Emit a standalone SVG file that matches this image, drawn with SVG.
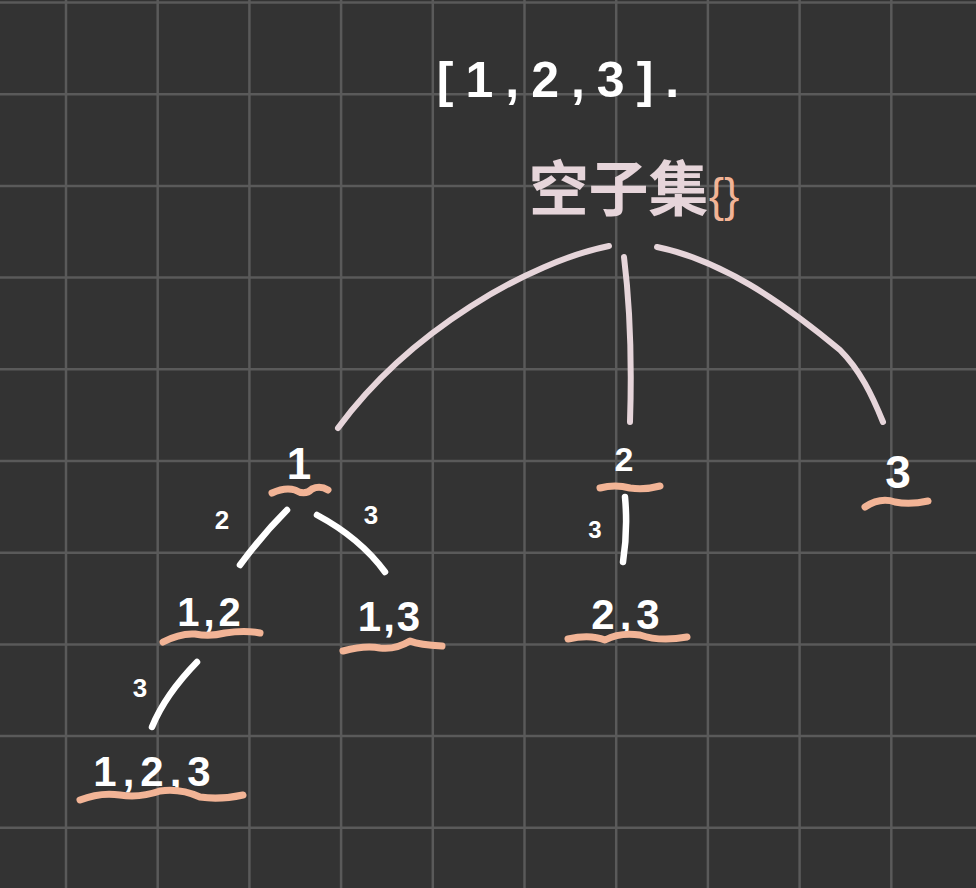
<svg xmlns="http://www.w3.org/2000/svg" width="976" height="888" viewBox="0 0 976 888">
<style>
.grid line{stroke:#5a5a5a;stroke-width:2.5}
.conn path{fill:none;stroke-linecap:round;stroke-linejoin:round}
.pink{stroke:#e6d5da;stroke-width:6}
.white{stroke:#ffffff;stroke-width:6.5}
.sq path{fill:none;stroke:#f2b496;stroke-width:7;stroke-linecap:round;stroke-linejoin:round}
text{font-family:"Liberation Sans","Noto Sans CJK SC",sans-serif;fill:#ffffff;text-anchor:middle}
.num{font-weight:bold}
</style>
<rect width="976" height="888" fill="#333333"/>
<g class="grid">
<line x1="66" y1="0" x2="66" y2="888"/><line x1="157.7" y1="0" x2="157.7" y2="888"/><line x1="249.4" y1="0" x2="249.4" y2="888"/><line x1="341.1" y1="0" x2="341.1" y2="888"/><line x1="432.8" y1="0" x2="432.8" y2="888"/><line x1="524.5" y1="0" x2="524.5" y2="888"/><line x1="616.2" y1="0" x2="616.2" y2="888"/><line x1="707.9" y1="0" x2="707.9" y2="888"/><line x1="799.6" y1="0" x2="799.6" y2="888"/><line x1="891.3" y1="0" x2="891.3" y2="888"/>
<line x1="0" y1="2.5" x2="976" y2="2.5"/><line x1="0" y1="94.2" x2="976" y2="94.2"/><line x1="0" y1="185.9" x2="976" y2="185.9"/><line x1="0" y1="277.6" x2="976" y2="277.6"/><line x1="0" y1="369.3" x2="976" y2="369.3"/><line x1="0" y1="461" x2="976" y2="461"/><line x1="0" y1="552.7" x2="976" y2="552.7"/><line x1="0" y1="644.4" x2="976" y2="644.4"/><line x1="0" y1="736.1" x2="976" y2="736.1"/><line x1="0" y1="827.8" x2="976" y2="827.8"/>
</g>
<g id="title"><text class="num" x="564" y="97" font-size="50" letter-spacing="12">[1,2,3].</text></g>
<g class="conn">
<path class="pink" d="M609,246 C530,262 410,330 338,428"/>
<path class="pink" d="M624,257 Q633,330 630,422"/>
<path class="pink" d="M657,247 C720,260 780,300 840,350 C860,370 872,395 883,422"/>
<path class="white" d="M287,510 Q262,535 240,565"/>
<path class="white" d="M317,515 Q360,538 385,572"/>
<path class="white" d="M197,662 Q165,695 152,727"/>
<path class="white" d="M625,497 Q628,530 623,562"/>
</g>
<g id="edge-labels">
<text class="num" x="222" y="529" font-size="26">2</text>
<text class="num" x="371" y="524" font-size="26">3</text>
<text class="num" x="140" y="697" font-size="26">3</text>
<text class="num" x="595" y="538" font-size="24">3</text>
</g>
<g id="root"><text x="634" y="211" font-size="60" font-weight="bold" style="fill:#e6d5da">空子集<tspan style="fill:#f2b496;font-weight:normal" font-size="46">{}</tspan></text></g>
<g id="n1"><text class="num" x="299" y="479" font-size="44">1</text></g>
<g id="n2"><text class="num" x="624" y="471" font-size="34">2</text></g>
<g id="n3"><text class="num" x="898" y="488" font-size="46">3</text></g>
<g id="n12"><text class="num" x="211" y="626" font-size="40" letter-spacing="4">1,2</text></g>
<g id="n13"><text class="num" x="390" y="631" font-size="42" letter-spacing="2">1,3</text></g>
<g id="n23"><text class="num" x="628" y="629" font-size="42" letter-spacing="5">2,3</text></g>
<g id="n123"><text class="num" x="155" y="786" font-size="42" letter-spacing="6">1,2,3</text></g>
<g class="sq">
<path d="M272,493 Q285,487 295,490 Q305,496 312,489 Q320,485 328,490"/>
<path d="M163,642 Q180,633 195,634 Q210,637 225,633 Q245,630 260,633"/>
<path d="M343,651 Q365,645 380,648 Q395,650 410,641 Q420,645 442,646"/>
<path d="M80,800 Q100,792 120,795 Q140,798 160,791 Q180,788 200,797 Q220,800 243,795"/>
<path d="M600,488 Q615,484 630,488 Q645,490 660,486"/>
<path d="M568,639 Q590,634 605,640 Q620,632 640,635 Q660,642 687,637"/>
<path d="M865,507 Q880,497 895,502 Q910,505 928,501"/>
</g>
</svg>
